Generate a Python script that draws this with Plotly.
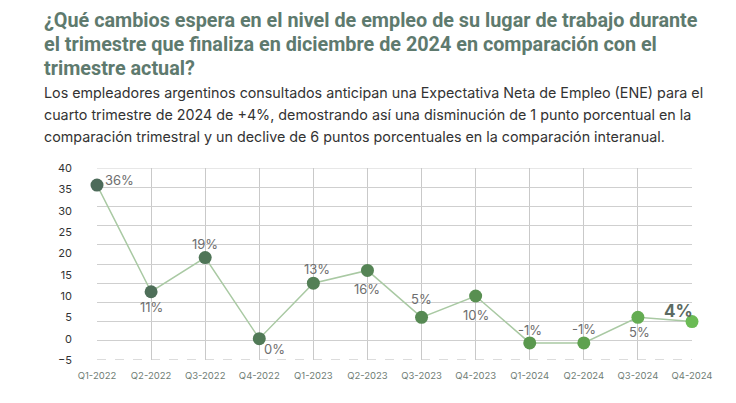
import plotly.graph_objects as go

quarters = ["Q1-2022", "Q2-2022", "Q3-2022", "Q4-2022", "Q1-2023", "Q2-2023",
            "Q3-2023", "Q4-2023", "Q1-2024", "Q2-2024", "Q3-2024", "Q4-2024"]
ene_values = [36, 11, 19, 0, 13, 16, 5, 10, -1, -1, 5, 4]
value_labels = ["36%", "11%", "19%", "0%", "13%", "16%", "5%", "10%", "-1%", "-1%", "5%", "4%"]
y_ticks = [-5, 0, 5, 10, 15, 20, 25, 30, 35, 40]

# styling
marker_colors = ["#4d6b5a", "#4e6f59", "#4f7557", "#517a57", "#537f56", "#558455",
                 "#568953", "#588f51", "#5a984e", "#5ea14f", "#64ac52", "#6bbb55"]
label_dx = [22, 0, 0, 15, 4, 0, 0, 0, 0, 0, 2, -14]
label_dy = [5, -15, 14, -10, 14, -19, 18, -19, 13, 14, -15, 11]

fig = go.Figure()

fig.add_trace(go.Scatter(
    x=quarters, y=ene_values, mode="lines+markers",
    line=dict(color="#a9c9a3", width=1.5),
    marker=dict(size=13, color=marker_colors),
    hoverinfo="skip", showlegend=False, cliponaxis=False,
))
# invisible trace to host grid axis
fig.add_trace(go.Scatter(x=quarters, y=ene_values, yaxis="y2", mode="markers",
                         marker=dict(opacity=0), hoverinfo="skip", showlegend=False))

for i, (q, v, t) in enumerate(zip(quarters, ene_values, value_labels)):
    last = i == len(quarters) - 1
    fig.add_annotation(
        x=q, y=v, text=f"<b>{t}</b>" if last else t, showarrow=False,
        xshift=label_dx[i], yshift=label_dy[i],
        font=dict(family="Inter", size=17 if last else 13,
                  color="#5b6a62" if last else "#6e6e6e"),
    )

ymin, ymax = y_ticks[0], y_ticks[-1]

fig.add_shape(type="line", xref="paper", x0=0, x1=1, yref="y", y0=ymin, y1=ymin,
              line=dict(color="#b8b8b8", width=1, dash="dash"), layer="below")
fig.add_shape(type="line", xref="paper", x0=0, x1=1, yref="y", y0=ymax, y1=ymax,
              line=dict(color="#cfcfcf", width=1), layer="below")

title_lines = [
    "¿Qué cambios espera en el nivel de empleo de su lugar de trabajo durante",
    "el trimestre que finaliza en diciembre de 2024 en comparación con el",
    "trimestre actual?",
]
subtitle_lines = [
    "Los empleadores argentinos consultados anticipan una Expectativa Neta de Empleo (ENE) para el",
    "cuarto trimestre de 2024 de +4%, demostrando así una disminución de 1 punto porcentual en la",
    "comparación trimestral y un declive de 6 puntos porcentuales en la comparación interanual.",
]
for k, line in enumerate(title_lines):
    fig.add_annotation(xref="paper", yref="paper", x=0, y=1, xanchor="left", yanchor="middle",
                       xshift=-55, yshift=148 - 24 * k, text=f"<b>{line}</b>", showarrow=False,
                       font=dict(family="Roboto", size=19.8, color="#5e7a6e"))
for k, line in enumerate(subtitle_lines):
    fig.add_annotation(xref="paper", yref="paper", x=0, y=1, xanchor="left", yanchor="middle",
                       xshift=-55, yshift=75 - 21.5 * k, text=line, showarrow=False,
                       font=dict(family="Inter", size=14.3, color="#333333"))

fig.update_layout(
    width=728, height=395,
    margin=dict(l=89, r=44, t=160, b=43),
    paper_bgcolor="white", plot_bgcolor="white",
    xaxis=dict(type="category", range=[0, len(quarters) - 1], showgrid=True,
               gridcolor="#c9c9c9", gridwidth=1, zeroline=False, showline=False,
               ticks="", tickfont=dict(family="Inter", size=9.5, color="#6f7d75"),
               ticklabelstandoff=8),
    yaxis=dict(range=[ymin, ymax], tickvals=y_ticks, showgrid=False, zeroline=False,
               showline=False, ticks="", ticklabelstandoff=24,
               tickfont=dict(family="Inter", size=11, color="#333333")),
    yaxis2=dict(overlaying="y", range=[ymin, ymax], tick0=ymin + (ymax - ymin) / 10,
                dtick=(ymax - ymin) / 10,
                showgrid=True, gridcolor="#cfcfcf", gridwidth=1, showticklabels=False,
                zeroline=False, ticks=""),
)

fig.write_html("out.html")
